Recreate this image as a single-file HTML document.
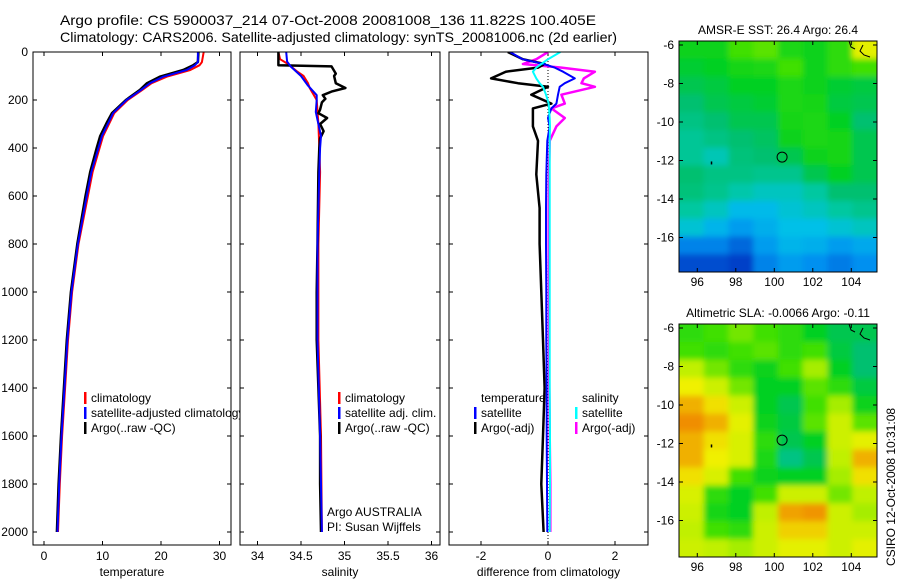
<!DOCTYPE html>
<html><head><meta charset="utf-8"><style>
html,body{margin:0;padding:0;background:#fff;}
svg{display:block;font-family:"Liberation Sans",Arial,sans-serif;}
</style></head><body>
<svg id="fig" width="900" height="580" viewBox="0 0 900 580" xmlns="http://www.w3.org/2000/svg">
<defs>
<clipPath id="cp1"><rect x="33" y="52" width="198" height="493"/></clipPath>
<clipPath id="cp2"><rect x="240" y="52" width="200" height="493"/></clipPath>
<clipPath id="cp3"><rect x="449" y="52" width="199" height="493"/></clipPath>
<clipPath id="cpleg1"><rect x="0" y="380" width="240" height="60"/></clipPath>
<clipPath id="cpm1"><rect x="679" y="41" width="198" height="231"/></clipPath>
<clipPath id="cpm2"><rect x="679" y="324" width="198" height="233"/></clipPath>
<filter id="blr" x="-10%" y="-10%" width="120%" height="120%"><feGaussianBlur stdDeviation="3"/></filter>
</defs>
<text x="60" y="25" font-size="14" textLength="536" lengthAdjust="spacingAndGlyphs">Argo profile: CS 5900037_214 07-Oct-2008 20081008_136 11.822S 100.405E</text>
<text x="60" y="42" font-size="14" textLength="557" lengthAdjust="spacingAndGlyphs">Climatology: CARS2006. Satellite-adjusted climatology: synTS_20081006.nc (2d earlier)</text>
<g id="layer"></g>
</svg>
<script>
// ---- data ----
var tempDepth = [0,42,55,75,103,130,158,200,255,296,350,400,500,600,800,1000,1200,1400,1600,1800,2000];
var tempClim  = [27.3,27.0,26.6,25.0,21.0,18.4,16.8,14.3,12.0,11.2,10.1,9.5,8.3,7.5,5.9,4.8,4.1,3.6,3.1,2.7,2.4];
var tempSat   = [26.3,26.3,25.8,24.4,20.4,18.1,16.6,14.1,11.8,11.0,9.9,9.3,8.1,7.3,5.8,4.7,4.0,3.5,3.0,2.6,2.3];
var tempArgo  = [26.4,26.3,25.5,23.8,19.8,17.6,16.4,14.0,11.6,10.7,9.6,9.0,7.9,7.1,5.7,4.6,3.9,3.4,2.9,2.5,2.2];

var salClimDepth = [0,30,50,80,100,130,150,200,300,400,500,800,1200,1600,2000];
var salClim      = [34.24,34.26,34.35,34.45,34.53,34.58,34.60,34.68,34.70,34.71,34.72,34.70,34.70,34.73,34.74];
var salSatDepth  = [0,40,60,100,140,180,200,250,300,350,400,500,800,1200,1600,2000];
var salSat       = [34.33,34.34,34.38,34.50,34.58,34.68,34.68,34.67,34.70,34.73,34.72,34.71,34.69,34.69,34.72,34.74];
var salArgoDepth = [0,55,60,90,100,130,150,165,180,195,210,240,255,275,300,330,360,400,500,800,1000,1200,1400,1600,1800,2000];
var salArgo      = [34.24,34.24,34.85,34.90,34.88,34.90,35.01,34.85,34.75,34.78,34.74,34.72,34.70,34.80,34.72,34.76,34.72,34.71,34.70,34.69,34.68,34.68,34.70,34.72,34.72,34.73];

var diffDepth   = [0,30,50,65,82,110,130,145,178,215,235,275,310,370,510,650,800,1000,1200,1400,1600,1800,2000];
var dTempSat    = [-1.13,-0.76,-0.13,0.2,0.45,0.8,0.5,0.35,0.3,0.25,0.1,0.0,0.05,-0.02,-0.05,-0.06,-0.06,-0.05,-0.05,-0.04,-0.04,-0.03,-0.02];
var dTempArgo   = [-1.2,-0.75,-0.1,-0.3,-1.26,-1.7,-0.9,0.0,-0.5,0.1,-0.45,-0.45,-0.45,-0.3,-0.35,-0.25,-0.25,-0.2,-0.15,-0.1,-0.15,-0.2,-0.13];
var dSalSat     = [0.37,0.0,-0.2,-0.35,-0.45,-0.35,-0.25,-0.15,-0.06,0.02,0.03,0.05,0.06,0.05,0.05,0.05,0.05,0.05,0.05,0.05,0.06,0.06,0.05];
var dSalArgo    = [0.0,-0.35,-0.75,0.4,1.4,1.07,1.0,1.4,0.4,0.5,0.1,0.5,0.25,0.05,0.03,0.02,0.02,0.03,0.03,0.04,0.05,0.07,0.07];

var depthTicks = [0,200,400,600,800,1000,1200,1400,1600,1800,2000];
var tempTicks = [0,10,20,30];
var salTicks = [34,34.5,35,35.5,36];
var salTickLabels = ["34","34.5","35","35.5","36"];
var diffTicks = [-2,0,2];

var latTicks = [-6,-8,-10,-12,-14,-16];
var lonTicks = [96,98,100,102,104];
var sstGrid = [
[0.56,0.56,0.62,0.64,0.58,0.56,0.60,0.78],
[0.54,0.55,0.57,0.58,0.62,0.56,0.60,0.62],
[0.52,0.53,0.55,0.55,0.58,0.56,0.54,0.53],
[0.50,0.52,0.53,0.54,0.58,0.57,0.53,0.52],
[0.48,0.50,0.52,0.52,0.57,0.58,0.55,0.50],
[0.46,0.48,0.50,0.51,0.56,0.58,0.57,0.52],
[0.46,0.43,0.49,0.50,0.52,0.56,0.57,0.52],
[0.50,0.48,0.48,0.47,0.47,0.52,0.55,0.52],
[0.49,0.47,0.44,0.42,0.42,0.45,0.50,0.50],
[0.45,0.42,0.37,0.37,0.40,0.42,0.45,0.47],
[0.40,0.36,0.32,0.35,0.38,0.38,0.40,0.42],
[0.28,0.28,0.24,0.32,0.36,0.35,0.32,0.34],
[0.20,0.20,0.18,0.28,0.32,0.30,0.27,0.30]];
var slaGrid = [
[0.60,0.62,0.66,0.62,0.60,0.55,0.52,0.52],
[0.62,0.60,0.62,0.64,0.60,0.62,0.53,0.50],
[0.72,0.66,0.60,0.56,0.62,0.70,0.55,0.50],
[0.80,0.74,0.66,0.55,0.55,0.64,0.60,0.53],
[0.88,0.82,0.74,0.55,0.52,0.62,0.70,0.56],
[0.93,0.88,0.78,0.56,0.53,0.64,0.74,0.64],
[0.88,0.82,0.76,0.60,0.52,0.55,0.74,0.78],
[0.88,0.80,0.76,0.58,0.48,0.52,0.72,0.88],
[0.82,0.76,0.62,0.56,0.55,0.55,0.70,0.82],
[0.76,0.60,0.55,0.62,0.74,0.74,0.66,0.72],
[0.74,0.57,0.55,0.72,0.90,0.92,0.74,0.70],
[0.72,0.62,0.60,0.74,0.84,0.84,0.74,0.74],
[0.74,0.72,0.70,0.74,0.78,0.78,0.74,0.78]];
var argoLon = 100.405, argoLat = -11.822;

// ---- helpers ----
var NS = "http://www.w3.org/2000/svg";
var layer = document.getElementById('layer');
function mk(tag, attrs, parent){
  var e = document.createElementNS(NS, tag);
  for (var k in attrs) e.setAttribute(k, attrs[k]);
  (parent||layer).appendChild(e); return e;
}
function yDepth(d){ return 52 + d*0.24; }
var panels = [
  {x0:33,x1:231,sx:function(v){return 44+v*5.85;},clip:'cp1',name:'temperature'},
  {x0:240,x1:440,sx:function(v){return 257.5+(v-34)*87;},clip:'cp2',name:'salinity'},
  {x0:449,x1:648,sx:function(v){return 548+v*33.5;},clip:'cp3',name:'difference'}
];
function line(p, depths, vals, color, w, name){
  var pts = depths.map(function(d,i){return p.sx(vals[i]).toFixed(1)+','+yDepth(d).toFixed(1);}).join(' ');
  var el = mk('polyline',{points:pts,fill:'none',stroke:color,'stroke-width':w,'stroke-linejoin':'round','clip-path':'url(#'+p.clip+')'});
  
  
}
function txt(x,y,s,size,anchor,name,parent){
  var t = mk('text',{x:x,y:y,'font-size':size,'text-anchor':anchor||'start'},parent);
  t.textContent = s;
  
  
  return t;
}
function frame(x0,y0,x1,y1,name){
  var r = mk('rect',{x:x0,y:y0,width:x1-x0,height:y1-y0,fill:'none',stroke:'#000','stroke-width':1});
  
  
}

// ---- profile panels ----
panels.forEach(function(p,pi){
  depthTicks.forEach(function(d){
    var y = yDepth(d);
    mk('line',{x1:p.x0,y1:y,x2:p.x0+4,y2:y,stroke:'#000'});
    mk('line',{x1:p.x1,y1:y,x2:p.x1-4,y2:y,stroke:'#000'});
    if (pi===0) txt(28,y+4,String(d),12,'end','y-tick-label');
  });
});
function xticks(p, ticks, labels, title){
  ticks.forEach(function(v,i){
    var x = p.sx(v);
    mk('line',{x1:x,y1:545,x2:x,y2:541,stroke:'#000'});
    mk('line',{x1:x,y1:52,x2:x,y2:56,stroke:'#000'});
    txt(x,560,labels[i],12,'middle','x-tick-label');
  });
  txt((p.x0+p.x1)/2,576,title,12,'middle','x-axis-title');
}
xticks(panels[0], tempTicks, tempTicks.map(String), 'temperature');
xticks(panels[1], salTicks, salTickLabels, 'salinity');
xticks(panels[2], diffTicks, diffTicks.map(String), 'difference from climatology');

var zl = mk('line',{x1:panels[2].sx(0),y1:52,x2:panels[2].sx(0),y2:545,stroke:'#000','stroke-dasharray':'1,2','stroke-width':1});



line(panels[0], tempDepth, tempClim, '#ff0000', 2, 'temp-climatology-line');
line(panels[0], tempDepth, tempArgo, '#000000', 2.5, 'temp-argo-line');
line(panels[0], tempDepth, tempSat, '#0000ff', 2, 'temp-satellite-line');

line(panels[1], salClimDepth, salClim, '#ff0000', 2, 'sal-climatology-line');
line(panels[1], salArgoDepth, salArgo, '#000000', 2.5, 'sal-argo-line');
line(panels[1], salSatDepth, salSat, '#0000ff', 2, 'sal-satellite-line');

line(panels[2], diffDepth, dSalArgo, '#ff00ff', 2.5, 'diff-sal-argo-line');
line(panels[2], diffDepth, dTempArgo, '#000000', 2.5, 'diff-temp-argo-line');
line(panels[2], diffDepth, dTempSat, '#0000ff', 2, 'diff-temp-satellite-line');
line(panels[2], diffDepth, dSalSat, '#00ffff', 2, 'diff-sal-satellite-line');

frame(33,52,231,545,'temperature-axes');
frame(240,52,440,545,'salinity-axes');
frame(449,52,648,545,'difference-axes');

function legEntry(x,y,color,label,parent){
  var r = mk('rect',{x:x,y:y-10,width:2.5,height:12,fill:color},parent);
  
  
  return txt(x+7,y,label,12,'start','legend-entry',parent);
}
var leg1 = mk('g',{'clip-path':'url(#cpleg1)'});


legEntry(84,402,'#ff0000','climatology',leg1);
legEntry(84,417,'#0000ff','satellite-adjusted climatology',leg1);
legEntry(84,432,'#000000','Argo(..raw -QC)',leg1);
legEntry(338,402,'#ff0000','climatology');
legEntry(338,417,'#0000ff','satellite adj. clim.');
legEntry(338,432,'#000000','Argo(..raw -QC)');
txt(481,402,'temperature',12,'start','legend-title-temperature');
txt(582,402,'salinity',12,'start','legend-title-salinity');
legEntry(474,417,'#0000ff','satellite');
legEntry(474,432,'#000000','Argo(-adj)');
legEntry(575,417,'#00ffff','satellite');
legEntry(575,432,'#ff00ff','Argo(-adj)');
txt(327,516,'Argo AUSTRALIA',12,'start','credit-line-1');
txt(327,531,'PI: Susan Wijffels',12,'start','credit-line-2');

// ---- maps ----
var cstops = [[0.18,[0,64,200]],[0.3,[0,144,240]],[0.38,[0,192,232]],[0.45,[0,200,160]],[0.5,[0,192,112]],[0.55,[0,208,32]],[0.62,[64,224,0]],[0.72,[192,240,0]],[0.8,[240,240,0]],[0.88,[240,176,0]],[0.95,[240,128,0]]];
function cmap(v){
  if (v<=cstops[0][0]) return 'rgb('+cstops[0][1]+')';
  for (var i=1;i<cstops.length;i++){
    if (v<=cstops[i][0]){
      var a=cstops[i-1],b=cstops[i],t=(v-a[0])/(b[0]-a[0]);
      var c=a[1].map(function(q,k){return Math.round(q+(b[1][k]-q)*t);});
      return 'rgb('+c.join(',')+')';
    }
  }
  return 'rgb('+cstops[cstops.length-1][1]+')';
}
function drawMap(m, grid, title, name){
  var lonX = function(lon){ return m.x0 + (lon-95.05)*19.25; };
  var latY = function(lat){ return m.yTop + (-6 - lat)*19.25 + 4; };
  var g = mk('g',{'clip-path':'url(#'+m.clip+')'});
  
  
  var gb = mk('g',{filter:'url(#blr)'},g);
  var rows = grid.length, cols = grid[0].length;
  var cw = (m.x1-m.x0)/cols, ch = (m.y1-m.yTop)/rows;
  for (var r=0;r<rows;r++) for (var c=0;c<cols;c++){
    var x = m.x0+c*cw, y = m.yTop+r*ch, w=cw+0.5, h=ch+0.5;
    if (c===0){x-=20;w+=20;} if (c===cols-1){w+=20;}
    if (r===0){y-=20;h+=20;} if (r===rows-1){h+=20;}
    var cell = mk('rect',{x:x,y:y,width:w,height:h,fill:cmap(grid[r][c])},gb);
    
    
  }
  mk('path',{d:'M'+(m.x1-28)+','+m.yTop+' l2,6 l4,2 M'+(m.x1-14)+','+(m.yTop+4)+' l-3,6 l4,4 l6,2',fill:'none',stroke:'#000','stroke-width':1},g);
  mk('rect',{x:lonX(96.7),y:latY(-12.05),width:1.5,height:3,fill:'#000'},g);
  var circ = mk('circle',{cx:lonX(argoLon),cy:latY(argoLat),r:5,fill:'none',stroke:'#000','stroke-width':1});
  
  
  frame(m.x0,m.yTop,m.x1,m.y1,name+'-axes');
  latTicks.forEach(function(lat){
    var y = latY(lat);
    mk('line',{x1:m.x0,y1:y,x2:m.x0+4,y2:y,stroke:'#000'});
    mk('line',{x1:m.x1,y1:y,x2:m.x1-4,y2:y,stroke:'#000'});
    txt(m.x0-5,y+4,String(lat),12,'end','lat-tick-label');
  });
  lonTicks.forEach(function(lon){
    var x = lonX(lon);
    mk('line',{x1:x,y1:m.y1,x2:x,y2:m.y1-4,stroke:'#000'});
    mk('line',{x1:x,y1:m.yTop,x2:x,y2:m.yTop+4,stroke:'#000'});
    txt(x,m.y1+14,String(lon),12,'middle','lon-tick-label');
  });
  txt((m.x0+m.x1)/2,m.yTop-7,title,12,'middle',name+'-title');
}
drawMap({x0:679,x1:877,yTop:41,y1:272,clip:'cpm1'}, sstGrid, 'AMSR-E SST: 26.4 Argo: 26.4', 'sst-map');
drawMap({x0:679,x1:877,yTop:324,y1:557,clip:'cpm2'}, slaGrid, 'Altimetric SLA: -0.0066 Argo: -0.11', 'sla-map');
var stamp = txt(0,0,'CSIRO 12-Oct-2008 10:31:08',12,'middle','timestamp');
stamp.setAttribute('transform','translate(895,487) rotate(-90)');
</script>
</body></html>
